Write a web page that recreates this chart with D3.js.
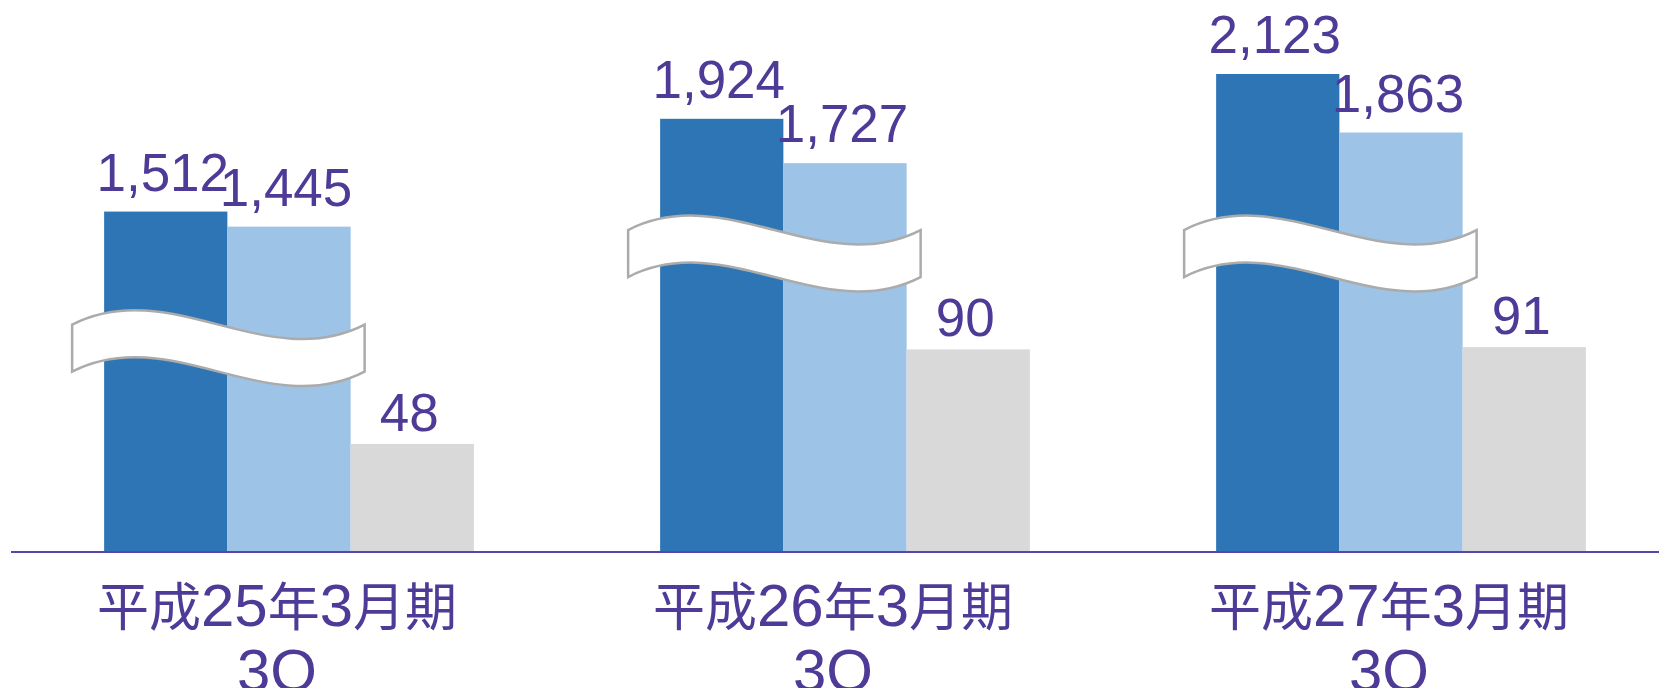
<!DOCTYPE html>
<html>
<head>
<meta charset="utf-8">
<script src="https://cdn.jsdelivr.net/npm/d3@7"></script>
<style>
  body { margin: 0; background: #fff; }
  svg { display: block; }
</style>
</head>
<body>
<div id="chart"></div>
<script>
// Categories (two-line labels)
var categories = ["平成25年3月期", "平成26年3月期", "平成27年3月期"];
var subLabels = ["3Q", "3Q", "3Q"];

// Series values
var seriesNames = ["s1", "s2", "s3"];
var series1 = [1512, 1924, 2123];
var series2 = [1445, 1727, 1863];
var series3 = [48, 90, 91];

// Where the axis break sits in each group (in series1/series2 units)
var breakValues = [1010, 1430, 1430];

(function() {
  var width = 1659, height = 688;
  var baseline = 552;

  var svg = d3.select("#chart")
    .append("svg")
      .attr("width", width)
      .attr("height", height);

  var colors = ["#2E75B6", "#9DC3E6", "#D9D9D9"];
  var textColor = "#4E3A97";

  // Outer band per period, inner band per series
  var x0 = d3.scaleBand()
    .domain(categories)
    .range([11, 1679])
    .paddingInner(0.335)
    .paddingOuter(0.1675);

  var x1 = d3.scaleBand()
    .domain(seriesNames)
    .range([0, x0.bandwidth()]);

  // Main scale for the two large series; the third series is drawn
  // on a 10x scale below the break
  var yMain = d3.scaleLinear().domain([0, 2123]).range([baseline, baseline - 478]);
  var ySmall = d3.scaleLinear().domain([0, 212.3]).range([baseline, baseline - 478]);

  var rows = categories.map(function(c, i) {
    return {
      cat: c,
      sub: subLabels[i],
      brk: breakValues[i],
      vals: [
        {key: "s1", value: series1[i], y: yMain, gap: 21},
        {key: "s2", value: series2[i], y: yMain, gap: 21},
        {key: "s3", value: series3[i], y: ySmall, gap: 13}
      ]
    };
  });

  var groups = svg.selectAll(".group")
    .data(rows)
    .enter()
    .append("g")
      .attr("class", "group")
      .attr("transform", function(d) { return "translate(" + x0(d.cat) + ",0)"; });

  // Bars
  groups.selectAll("rect")
    .data(function(d) { return d.vals; })
    .enter()
    .append("rect")
      .attr("x", function(d) { return x1(d.key); })
      .attr("y", function(d) { return d.y(d.value); })
      .attr("width", x1.bandwidth())
      .attr("height", function(d) { return baseline - d.y(d.value); })
      .attr("fill", function(d, i) { return colors[i]; });

  // Wavy break band over the two large bars
  var bw = x1.bandwidth();
  groups.append("path")
    .attr("d", function(d) {
      var L = -32, R = 2 * bw + 14, w = R - L;
      var T = yMain(d.brk), h = 47, k = 50;
      return "M" + L + "," + T +
        "C" + (L + w / 3) + "," + (T - k) + " " + (L + 2 * w / 3) + "," + (T + k) + " " + R + "," + T +
        "L" + R + "," + (T + h) +
        "C" + (L + 2 * w / 3) + "," + (T + h + k) + " " + (L + w / 3) + "," + (T + h - k) + " " + L + "," + (T + h) +
        "Z";
    })
    .attr("fill", "#fff")
    .attr("stroke", "#ABABAB")
    .attr("stroke-width", 2.5);

  // Value labels
  groups.selectAll(".val")
    .data(function(d) { return d.vals; })
    .enter()
    .append("text")
      .attr("class", "val")
      .attr("x", function(d) { return x1(d.key) + bw / 2 - 3; })
      .attr("y", function(d) { return d.y(d.value) - d.gap; })
      .attr("text-anchor", "middle")
      .style("font-family", "'Liberation Sans', Arial, sans-serif")
      .style("font-size", "53px")
      .attr("fill", textColor)
      .text(function(d) { return d3.format(",")(d.value); });

  // Baseline
  svg.append("line")
    .attr("x1", 11)
    .attr("x2", width)
    .attr("y1", baseline)
    .attr("y2", baseline)
    .attr("stroke", "#5B45A8")
    .attr("stroke-width", 2);

  // Category labels: kanji a bit smaller than the digits, as in the original
  function runs(s) {
    var out = [];
    s.split("").forEach(function(ch) {
      var cjk = /[\u3000-\u9fff]/.test(ch);
      if (out.length && out[out.length - 1].cjk === cjk) out[out.length - 1].t += ch;
      else out.push({t: ch, cjk: cjk});
    });
    return out;
  }

  var cx = x0.bandwidth() / 2 - 12;

  groups.append("text")
    .attr("x", cx)
    .attr("y", 626)
    .attr("text-anchor", "middle")
    .attr("fill", textColor)
    .selectAll("tspan")
    .data(function(d) { return runs(d.cat); })
    .enter()
    .append("tspan")
      .style("font-family", function(r) { return r.cjk ? "'Noto Sans CJK JP', sans-serif" : "'Liberation Sans', Arial, sans-serif"; })
      .style("font-size", function(r) { return r.cjk ? "52px" : "60px"; })
      .text(function(r) { return r.t; });

  groups.append("text")
    .attr("x", cx)
    .attr("y", 691)
    .attr("text-anchor", "middle")
    .style("font-family", "'Liberation Sans', Arial, sans-serif")
    .style("font-size", "60px")
    .attr("fill", textColor)
    .text(function(d) { return d.sub; });
})();
</script>
</body>
</html>
